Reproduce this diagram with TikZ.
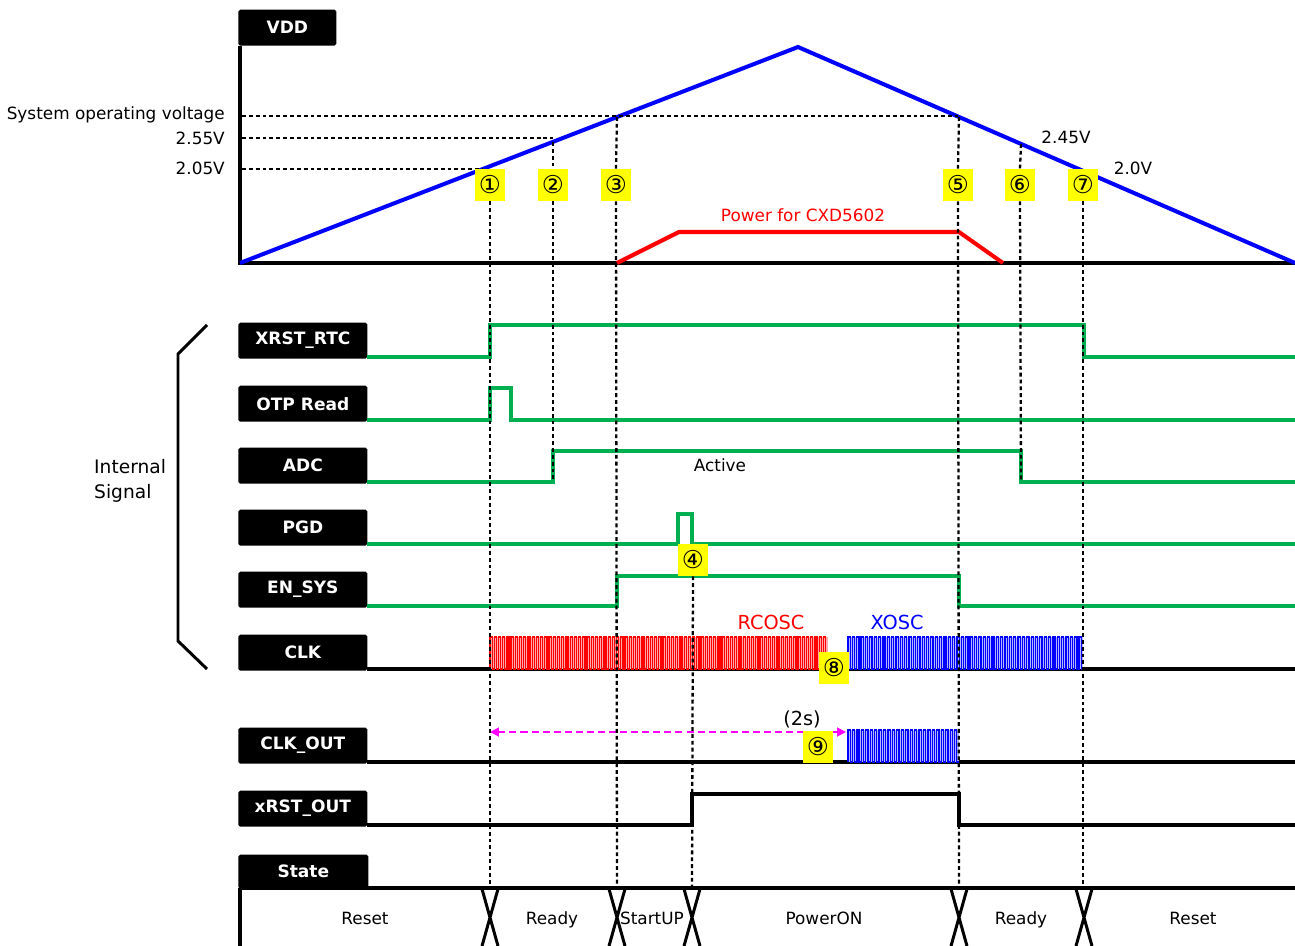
\documentclass[tikz,border=0pt]{standalone}
\usepackage{fontspec}
\setmainfont{DejaVu Sans}
\usepackage{tikz}
\usetikzlibrary{arrows.meta}
\usetikzlibrary{positioning}
\usetikzlibrary{calc}

\definecolor{sigGreen}{RGB}{0,176,80}
\definecolor{vddBlue}{RGB}{0,0,255}
\definecolor{pwrRed}{RGB}{255,0,0}
\definecolor{markYellow}{RGB}{255,255,0}
\definecolor{spanMagenta}{RGB}{255,0,255}

\begin{document}
\begin{tikzpicture}[x=0.02cm, y=-0.02cm, font=\fontsize{9.6}{11.6}\selectfont,
    lbl/.style={fill=black, text=white, font=\fontsize{9.7}{11.6}\selectfont\bfseries, minimum width=2.58cm, minimum height=0.72cm, inner sep=0pt, rounded corners=1pt, anchor=south west},
    num/.style={fill=markYellow, minimum width=0.6cm, minimum height=0.64cm, inner sep=0pt, font=\fontsize{14}{14}\selectfont},
    sig/.style={draw=sigGreen, line width=2.2pt},
    base/.style={draw=black, line width=1.8pt},
    axis/.style={draw=black, line width=2.2pt},
    guide/.style={draw=black, line width=1.3pt, dash pattern=on 2.2pt off 1.7pt},
    clkline/.style={line width=0.7pt}]
      \useasboundingbox (0,0) rectangle (1295,946);
      % Event positions (x)
      \def\tA{490}
      \def\tB{553}
      \def\tC{617}
      \def\tD{692}
      \def\tE{959}
      \def\tF{1021}
      \def\tG{1084}
      % VDD axis and supply ramp
      \node[lbl, minimum width=1.96cm] (vdd) at (238,46) {VDD};
      \draw[axis] (vdd.south west) ++(2,0) -- (240,263) -- (1295,263);
      \coordinate (v0) at (240,263);
      \coordinate (vtop) at (798,47);
      \coordinate (vend) at (1295,263);
      \draw[vddBlue, line width=2.3pt] (v0) -- (vtop) -- (vend);
      \draw[pwrRed, line width=2.3pt] (\tC,263) -- (679,232) -- (\tE,232) -- (1003,263);
      \node[text=pwrRed] (pwr) at (803,215) {Power for CXD5602};
      % Voltage levels
      \draw[guide] (242,116) -- (\tE,116);
      \draw[guide] (242,138) -- (\tB,138);
      \draw[guide] (242,169) -- (483,169);
      \node[anchor=east] (sysv) at (231,115) {System operating voltage};
      \node[anchor=east] (v255) at (231,138) {2.55V};
      \node[anchor=east] (v205) at (231,168) {2.05V};
      \node (v245) at (1066,137) {2.45V};
      \node (v20) at (1133,168) {2.0V};
      % Signal labels
      \foreach \nm/\txt/\yb in {xrst/XRST\_RTC/359, otp/OTP Read/422, adc/ADC/484, pgd/PGD/546, ensys/EN\_SYS/608, clk/CLK/671, clkout/CLK\_OUT/764, xrstout/xRST\_OUT/827} {
        \node[lbl] (\nm) at (238,\yb) {\txt};
      }
      % Internal signals
      \draw[sig] (367,357) -- (\tA,357) -- (\tA,325) -- (\tG,325) -- (\tG,357) -- (1295,357);
      \draw[sig] (367,420) -- (\tA,420) -- (\tA,388) -- (511,388) -- (511,420) -- (1295,420);
      \draw[sig] (367,482) -- (\tB,482) -- (\tB,451) -- (\tF,451) -- (\tF,482) -- (1295,482);
      \draw[sig] (367,544) -- (678,544) -- (678,514) -- (\tD,514) -- (\tD,544) -- (1295,544);
      \draw[sig] (367,606) -- (\tC,606) -- (\tC,576) -- (\tE,576) -- (\tE,606) -- (1295,606);
      \node (active) at (720,465) {Active};
      % Clocks
      \draw[base] (367,669) -- (1295,669);
      \fill[pwrRed!35] (\tA,637) rectangle (828,669);
      \fill[vddBlue!30] (848,637) rectangle (1083,669);
      \draw[clkline, pwrRed] (\tA,669) foreach \k in {1,...,80} { -- ++(0,-32) -- ++(2.11,0) -- ++(0,32) -- ++(2.11,0) };
      \draw[clkline, vddBlue] (848,669) foreach \k in {1,...,54} { -- ++(0,-32) -- ++(2.18,0) -- ++(0,32) -- ++(2.18,0) };
      \node[text=pwrRed, font=\fontsize{11}{13}\selectfont] (rcosc) at (771,622) {RCOSC};
      \node[text=vddBlue, font=\fontsize{11}{13}\selectfont] (xosc) at (897,622) {XOSC};
      \draw[base] (367,762) -- (1295,762);
      \fill[vddBlue!30] (848,730) rectangle (959,762);
      \draw[clkline, vddBlue] (848,762) foreach \k in {1,...,25} { -- ++(0,-32) -- ++(2.22,0) -- ++(0,32) -- ++(2.22,0) };
      \draw[spanMagenta, line width=1pt, dash pattern=on 4pt off 2.3pt, {Triangle[length=5pt,width=5pt]}-{Triangle[length=5pt,width=5pt]}] (\tA,732) -- (846,732);
      \node[font=\fontsize{11}{13}\selectfont] (span) at (802,719) {(2s)};
      \draw[base] (367,825) -- (\tD,825) -- (\tD,794) -- (\tE,794) -- (\tE,825) -- (1295,825);
      % Bracket
      \draw[line width=1.7pt] (207,325) -- (178,354) -- (178,641) -- (207,669);
      \node[anchor=west, align=left, font=\fontsize{10.6}{14}\selectfont] (intsig) at (88,481) {Internal\\Signal};
      % Markers
      \foreach \n/\g/\xx/\yy in {1/①/490/185, 2/②/553/185, 3/③/616/185, 5/⑤/958/185, 6/⑥/1020/185, 7/⑦/1083/185, 4/④/693/560, 8/⑧/834/668, 9/⑨/818/747} {
        \node[num] (n\n) at (\xx,\yy) {\g};
      }
      % Guide lines
      \draw[guide] (n1.south) -- (\tA,887);
      \draw[guide] (\tB,142) -- (n2.north);
      \draw[guide] (n2.south) -- (\tB,481);
      \draw[guide] (\tC,117) -- (n3.north);
      \draw[guide] (n3.south) -- (\tC,887);
      \draw[guide] (n4.south) -- (\tD,887);
      \draw[guide] (\tE,117) -- (n5.north);
      \draw[guide] (n5.south) -- (\tE,887);
      \draw[guide] (\tF,144) -- (n6.north);
      \draw[guide] (n6.south) -- (\tF,481);
      \draw[guide] (n7.south) -- (1083,887);
      % State
      \node[lbl, minimum width=2.6cm, minimum height=0.68cm] (state) at (238,889) {State};
      \draw[line width=2.6pt] (240,888) -- (1295,888);
      \draw[axis] (240,888) -- (240,946);
      \foreach \xx in {\tA, \tC, \tD, \tE, \tG} {
        \draw[line width=1.7pt] (\xx-8,889) -- (\xx+8,946) (\xx+8,889) -- (\xx-8,946);
      }
      \foreach \txt/\xx [count=\i] in {Reset/365, Ready/552, StartUP/652, PowerON/824, Ready/1021, Reset/1193} {
        \node[anchor=base] (st\i) at (\xx,924) {\txt};
      }
\end{tikzpicture}
\end{document}
